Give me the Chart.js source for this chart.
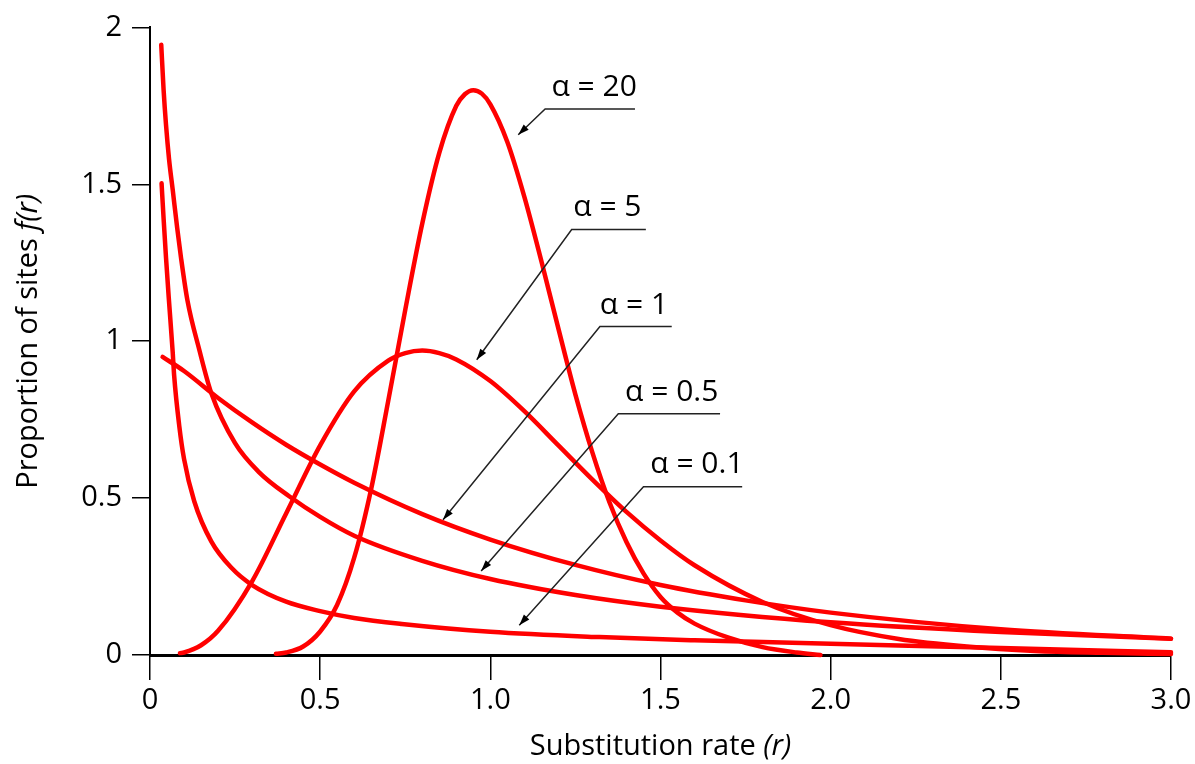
<!DOCTYPE html>
<html>
<head>
<meta charset="utf-8">
<script src="https://cdn.jsdelivr.net/npm/chart.js@4/dist/chart.umd.min.js"></script>
<style>
  html, body { margin: 0; padding: 0; background: #ffffff; }
  #wrap { width: 1195px; height: 764px; position: relative; }
</style>
</head>
<body>
<div id="wrap"><canvas id="c" width="1195" height="764"></canvas></div>
<script>
// ---- data ----
const seriesNames = ['α = 0.1', 'α = 0.5', 'α = 1', 'α = 5', 'α = 20'];

const alpha01R = [0.034, 0.04, 0.047, 0.055, 0.0666, 0.071, 0.086, 0.1, 0.13, 0.18, 0.24, 0.3, 0.4, 0.5, 0.6, 0.74, 1.0, 1.32, 1.6, 2.0, 2.5, 3.0];
const alpha01F = [1.503, 1.39, 1.267, 1.14, 0.967, 0.89, 0.73, 0.625, 0.49, 0.362, 0.277, 0.223, 0.17, 0.14, 0.118, 0.099, 0.074, 0.057, 0.047, 0.036, 0.022, 0.009];

const alpha05R = [0.033, 0.04, 0.047, 0.056, 0.067, 0.08, 0.091, 0.11, 0.145, 0.18, 0.25, 0.32, 0.41, 0.5, 0.6, 0.8, 1.0, 1.25, 1.5, 2.0, 2.5, 3.0];
const alpha05F = [1.945, 1.80, 1.69, 1.58, 1.48, 1.36, 1.267, 1.13, 0.972, 0.835, 0.675, 0.583, 0.505, 0.44, 0.38, 0.30, 0.242, 0.191, 0.154, 0.104, 0.073, 0.052];

const alpha1R = [0.037, 0.1, 0.2, 0.3, 0.4, 0.5, 0.6, 0.8, 1.0, 1.25, 1.5, 1.75, 2.0, 2.5, 3.0];
const alpha1F = [0.95, 0.905, 0.819, 0.741, 0.670, 0.607, 0.549, 0.449, 0.368, 0.287, 0.223, 0.174, 0.135, 0.082, 0.052];

const alpha5R = [0.088, 0.1, 0.15, 0.2, 0.3, 0.4, 0.5, 0.6, 0.7, 0.75, 0.8, 0.85, 0.9, 1.0, 1.1, 1.2, 1.3, 1.4, 1.5, 1.6, 1.8, 2.0, 2.2, 2.4, 2.6, 2.8, 3.0];
const alpha5F = [0.006, 0.008, 0.031, 0.077, 0.235, 0.451, 0.668, 0.84, 0.938, 0.962, 0.97, 0.962, 0.942, 0.873, 0.777, 0.668, 0.559, 0.456, 0.365, 0.286, 0.169, 0.095, 0.051, 0.027, 0.013, 0.007, 0.003];

const alpha20R = [0.37, 0.4, 0.45, 0.5, 0.55, 0.6, 0.65, 0.7, 0.75, 0.8, 0.85, 0.9, 0.925, 0.95, 0.975, 1.0, 1.05, 1.1, 1.15, 1.2, 1.25, 1.3, 1.35, 1.4, 1.45, 1.5, 1.55, 1.6, 1.7, 1.8, 1.9, 1.97];
const alpha20F = [0.004, 0.008, 0.027, 0.075, 0.16, 0.31, 0.53, 0.81, 1.10, 1.375, 1.60, 1.75, 1.787, 1.80, 1.789, 1.755, 1.635, 1.46, 1.255, 1.04, 0.83, 0.645, 0.487, 0.36, 0.26, 0.185, 0.135, 0.10, 0.055, 0.025, 0.008, 0.0];

const xTickValues = [0, 0.5, 1, 1.5, 2, 2.5, 3];
const xTickLabels = ['0', '0.5', '1.0', '1.5', '2.0', '2.5', '3.0'];
const yTickValues = [0, 0.5, 1, 1.5, 2];
const yTickLabels = ['0', '0.5', '1', '1.5', '2'];

const xTitle = ['Substitution rate ', '(r)'];
const yTitle = ['Proportion of sites ', 'f(r)'];

// annotation callouts, in data units (label centre, underline, arrow tip)
const callouts = [
  { text: 'α = 20',  tx: 1.305, ty: 1.808, ux0: 1.161, ux1: 1.425, uy: 1.740, ax: 1.082, ay: 1.658 },
  { text: 'α = 5',   tx: 1.344, ty: 1.425, ux0: 1.239, ux1: 1.457, uy: 1.356, ax: 0.960, ay: 0.941 },
  { text: 'α = 1',   tx: 1.422, ty: 1.115, ux0: 1.322, ux1: 1.533, uy: 1.047, ax: 0.861, ay: 0.431 },
  { text: 'α = 0.5', tx: 1.533, ty: 0.836, ux0: 1.376, ux1: 1.675, uy: 0.769, ax: 0.973, ay: 0.268 },
  { text: 'α = 0.1', tx: 1.607, ty: 0.606, ux0: 1.450, ux1: 1.740, uy: 0.536, ax: 1.085, ay: 0.095 }
];

// ---- build ----
const FONT = '"Open Sans", "Noto Sans", "DejaVu Sans", sans-serif';
const RED = 'rgb(255,0,0)';
function pts(rs, fs) { return rs.map((r, i) => ({ x: r, y: fs[i] })); }
const seriesData = [pts(alpha01R, alpha01F), pts(alpha05R, alpha05F), pts(alpha1R, alpha1F), pts(alpha5R, alpha5F), pts(alpha20R, alpha20F)];

const datasets = seriesData.map((d, i) => ({
  label: seriesNames[i],
  data: d,
  borderColor: RED,
  backgroundColor: RED,
  borderWidth: 4.5,
  pointRadius: 0,
  fill: false,
  cubicInterpolationMode: 'monotone',
  borderCapStyle: 'round',
  borderJoinStyle: 'round',
  clip: false
}));

const decorPlugin = {
  id: 'decor',
  afterDatasetsDraw(chart) {
    const ctx = chart.ctx;
    const xs = chart.scales.x, ys = chart.scales.y;
    ctx.save();
    callouts.forEach(c => {
      const x0 = xs.getPixelForValue(c.ux0), x1 = xs.getPixelForValue(c.ux1), uy = ys.getPixelForValue(c.uy);
      const ax = xs.getPixelForValue(c.ax), ay = ys.getPixelForValue(c.ay);
      ctx.strokeStyle = '#222';
      ctx.lineWidth = 1.5;
      ctx.beginPath();
      ctx.moveTo(x1, uy);
      ctx.lineTo(x0, uy);
      ctx.lineTo(ax, ay);
      ctx.stroke();
      const ang = Math.atan2(ay - uy, ax - x0);
      const L = 11, W = 3.6;
      ctx.fillStyle = '#000';
      ctx.beginPath();
      ctx.moveTo(ax, ay);
      ctx.lineTo(ax - L * Math.cos(ang) + W * Math.sin(ang), ay - L * Math.sin(ang) - W * Math.cos(ang));
      ctx.lineTo(ax - L * Math.cos(ang) - W * Math.sin(ang), ay - L * Math.sin(ang) + W * Math.cos(ang));
      ctx.closePath();
      ctx.fill();
      ctx.fillStyle = '#000';
      ctx.font = '500 30px ' + FONT;
      ctx.textAlign = 'center';
      ctx.textBaseline = 'middle';
      ctx.fillText(c.text, xs.getPixelForValue(c.tx), ys.getPixelForValue(c.ty));
    });
    ctx.restore();
  },
  afterDraw(chart) {
    const ctx = chart.ctx;
    const ca = chart.chartArea;
    ctx.save();
    ctx.fillStyle = '#000';
    ctx.textBaseline = 'alphabetic';
    ctx.textAlign = 'left';
    const fN = '500 29px ' + FONT, fI = 'italic 500 29px ' + FONT;
    ctx.font = fN; const wx0 = ctx.measureText(xTitle[0]).width;
    ctx.font = fI; const wx1 = ctx.measureText(xTitle[1]).width;
    const cx = (ca.left + ca.right) / 2;
    let sx = cx - (wx0 + wx1) / 2;
    ctx.font = fN; ctx.fillText(xTitle[0], sx, 755);
    ctx.font = fI; ctx.fillText(xTitle[1], sx + wx0, 755);
    ctx.translate(37, (ca.top + ca.bottom) / 2);
    ctx.rotate(-Math.PI / 2);
    ctx.font = fN; const wy0 = ctx.measureText(yTitle[0]).width;
    ctx.font = fI; const wy1 = ctx.measureText(yTitle[1]).width;
    let sy = -(wy0 + wy1) / 2;
    ctx.font = fN; ctx.fillText(yTitle[0], sy, 0);
    ctx.font = fI; ctx.fillText(yTitle[1], sy + wy0, 0);
    ctx.restore();
  }
};

new Chart(document.getElementById('c'), {
  type: 'line',
  data: { datasets },
  options: {
    responsive: false,
    animation: false,
    events: [],
    layout: { padding: { top: 21, right: 24, left: 0, bottom: 0 } },
    plugins: { legend: { display: false }, tooltip: { enabled: false }, title: { display: false } },
    scales: {
      x: {
        type: 'linear', min: 0, max: 3,
        afterFit(s) { s.height = 109; },
        afterBuildTicks(s) { s.ticks = xTickValues.map(v => ({ value: v })); },
        ticks: {
          color: '#000', padding: 3,
          font: { family: FONT, size: 29, weight: '500' },
          maxRotation: 0, autoSkip: false,
          callback(v) { const i = xTickValues.indexOf(v); return i >= 0 ? xTickLabels[i] : ''; }
        },
        grid: { display: true, drawOnChartArea: false, drawTicks: true, tickLength: 25, color: '#000', lineWidth: 1.5 },
        border: { display: true, color: '#000', width: 3 }
      },
      y: {
        type: 'linear', min: 0, max: 2,
        afterFit(s) { s.width = 150; },
        afterBuildTicks(s) { s.ticks = yTickValues.map(v => ({ value: v })); },
        ticks: {
          color: '#000', padding: 10,
          font: { family: FONT, size: 29, weight: '500' },
          autoSkip: false,
          callback(v) { const i = yTickValues.indexOf(v); return i >= 0 ? yTickLabels[i] : ''; }
        },
        grid: { display: true, drawOnChartArea: false, drawTicks: true, tickLength: 18, color: '#000', lineWidth: 1.5 },
        border: { display: true, color: '#000', width: 2 }
      }
    }
  },
  plugins: [decorPlugin]
});
</script>
</body>
</html>
